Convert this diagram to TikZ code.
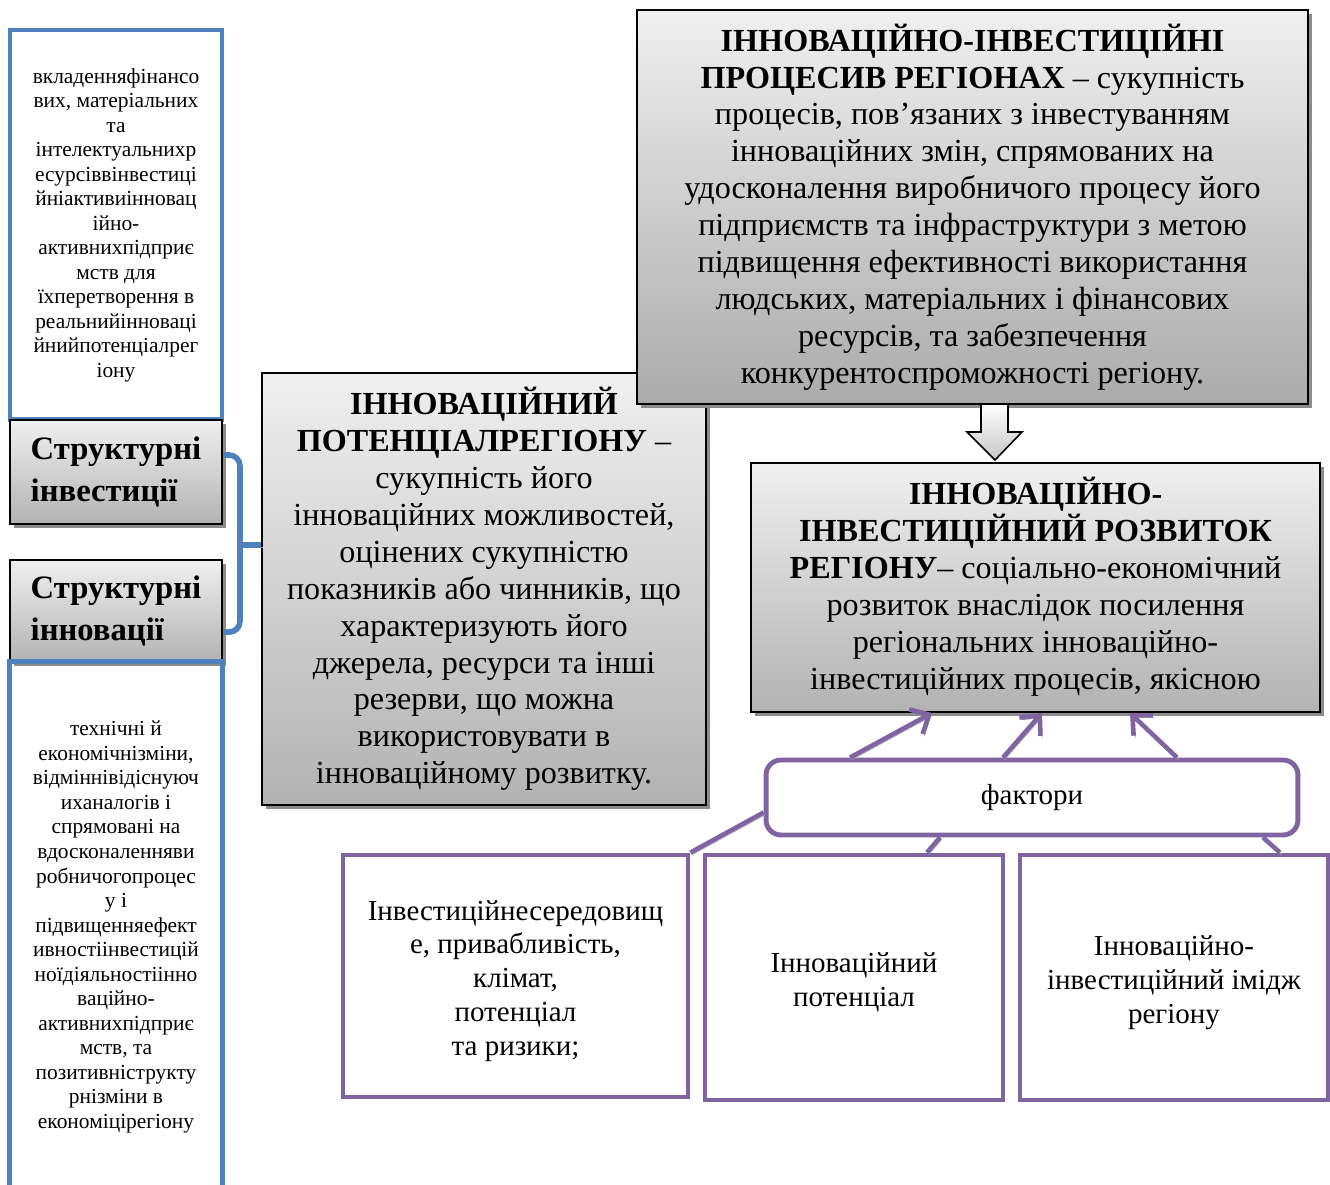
\documentclass[tikz,border=0pt]{standalone}
\usepackage{fontspec}
\setmainfont{Liberation Serif}
\usetikzlibrary{arrows.meta,shadows,calc}
\definecolor{boxblue}{HTML}{4F81BD}
\definecolor{boxpurple}{HTML}{8064A2}
\tikzset{
  graybox/.style={draw=black, line width=1.1pt, top color=black!6, bottom color=black!30,
    drop shadow={shadow xshift=2.2pt, shadow yshift=-2.2pt, fill=black!45, opacity=1},
    inner sep=0pt, align=center},
  bluebox/.style={draw=boxblue, line width=2.8pt, fill=white, align=center, inner sep=0pt},
  purplebox/.style={draw=boxpurple, line width=2.8pt, fill=white, align=center, inner sep=0pt},
  bigtext/.style={font=\fontsize{18.3}{21}\selectfont},
  smalltext/.style={font=\fontsize{12.2}{13.95}\selectfont},
  structtext/.style={font=\fontsize{18.6}{24.4}\selectfont\bfseries},
  factext/.style={font=\fontsize{16.5}{19.3}\selectfont},
  boxtext/.style={factext, align=center, inner sep=0pt, yshift=-0.1cm},
  lshadow/.style={preaction={draw=black!35, transform canvas={shift={(0.9pt,-1.3pt)}}}},
  bracket/.style={draw=boxblue, line width=3.2pt, lshadow},
  pline/.style={draw=boxpurple, line width=2.6pt, lshadow},
  parrow/.style={draw=boxpurple, line width=2.6pt, lshadow,
    -{Straight Barb[length=0.3cm, width=0.56cm]}},
}
\begin{document}
\begin{tikzpicture}[x=0.02cm, y=-0.02cm]
\useasboundingbox (0,0) rectangle (1330,1185);

% left column
\node[bluebox, smalltext, minimum width=4.24cm, minimum height=7.8cm] (blueA) at (116,225)
  {вкладенняфінансо\\вих, матеріальних\\та\\інтелектуальнихр\\есурсіввінвестиці\\йніактивиінновац\\ійно-\\активнихпідприє\\мств для\\їхперетворення в\\реальнийінноваці\\йнийпотенціалрег\\іону};

\node[graybox, structtext, minimum width=4.24cm, minimum height=2.08cm, align=left] (si) at (116,472)
  {Структурні\\інвестиції};
\node[graybox, structtext, minimum width=4.24cm, minimum height=2.04cm, align=left] (sn) at (116,611)
  {Структурні\\інновації};

\node[smalltext, align=center, minimum width=4.24cm, minimum height=10.6cm, inner sep=0pt] (blueB) at (116,927)
  {технічні й\\економічнізміни,\\відміннівідіснуюч\\иханалогів і\\спрямовані на\\вдосконаленняви\\робничогопроцес\\у і\\підвищенняефект\\ивностіінвестицій\\ноїдіяльностіінно\\ваційно-\\активнихпідприє\\мств, та\\позитивніструкту\\рнізміни в\\економіцірегіону};
\draw[boxblue, line width=2.8pt] (blueB.south west) -- (blueB.north west) -- (blueB.north east) -- (blueB.south east);

% middle box
\node[graybox, bigtext, minimum width=8.88cm, minimum height=8.64cm] (mid) at (484,589)
  {\textbf{ІННОВАЦІЙНИЙ}\\\textbf{ПОТЕНЦІАЛРЕГІОНУ} –\\сукупність його\\інноваційних можливостей,\\оцінених сукупністю\\показників або чинників, що\\характеризують його\\джерела, ресурси та інші\\резерви, що можна\\використовувати в\\інноваційному розвитку.};

% bracket
\coordinate (brk) at (240,545);
\draw[bracket, rounded corners=0.22cm] ([yshift=0.34cm]si.east) -| (brk) |- ([yshift=-0.42cm]sn.east);
\draw[bracket] (brk) -- (mid.west |- brk);

% top right box
\node[graybox, bigtext, minimum width=13.42cm, minimum height=7.88cm, bottom color=black!33] (top) at (972.5,207)
  {\textbf{ІННОВАЦІЙНО-ІНВЕСТИЦІЙНІ}\\\textbf{ПРОЦЕСИВ РЕГІОНАХ} – сукупність\\процесів, пов’язаних з інвестуванням\\інноваційних змін, спрямованих на\\удосконалення виробничого процесу його\\підприємств та інфраструктури з метою\\підвищення ефективності використання\\людських, матеріальних і фінансових\\ресурсів, та забезпечення\\конкурентоспроможності регіону.};

% development box
\node[graybox, minimum width=11.38cm, minimum height=4.98cm] (dev) at (1035.5,587.5) {};
\node[bigtext, align=center, anchor=north, inner sep=0pt] (devtext) at ([yshift=-0.3cm]dev.north)
  {\textbf{ІННОВАЦІЙНО-}\\\textbf{ІНВЕСТИЦІЙНИЙ РОЗВИТОК}\\\textbf{РЕГІОНУ}– соціально-економічний\\розвиток внаслідок посилення\\регіональних інноваційно-\\інвестиційних процесів, якісною};

% block arrow
\draw[line width=0.9pt, top color=white, bottom color=black!22]
  (981,404) -- (981,432) -- (967,432) -- (995,460) -- (1022,432) -- (1008,432) -- (1008,404) -- cycle;

% factors
\node[purplebox, factext, minimum width=10.64cm, minimum height=1.5cm, rounded corners=0.3cm] (fact) at (1032,797.5) {фактори};

\node[purplebox, minimum width=6.9cm, minimum height=4.84cm] (bA) at (515.5,976) {};
\node[boxtext] (bAt) at (bA.center)
  {Інвестиційнесередовищ\\е, привабливість,\\клімат,\\потенціал\\та ризики;};
\node[purplebox, minimum width=5.96cm, minimum height=4.9cm] (bB) at (854,977.5) {};
\node[boxtext] (bBt) at (bB.center)
  {Інноваційний\\потенціал};
\node[purplebox, minimum width=6.16cm, minimum height=4.9cm] (bC) at (1174,977.5) {};
\node[boxtext] (bCt) at (bC.center)
  {Інноваційно-\\інвестиційний імідж\\регіону};

% connectors
\draw[parrow] ([xshift=-3.64cm]fact.north) -- ([xshift=-2.07cm]dev.south);
\draw[parrow] ([xshift=-0.58cm]fact.north) -- ([xshift=0.13cm]dev.south);
\draw[parrow] ([xshift=2.9cm]fact.north) -- ([xshift=1.89cm]dev.south);

\draw[pline] ([yshift=-0.3cm]fact.west) -- (bA.north east);
\draw[pline] ([xshift=-1.84cm]fact.south) -- ([xshift=1.46cm]bB.north);
\draw[pline] ([xshift=4.62cm]fact.south) -- ([xshift=2.12cm]bC.north);
\end{tikzpicture}
\end{document}
